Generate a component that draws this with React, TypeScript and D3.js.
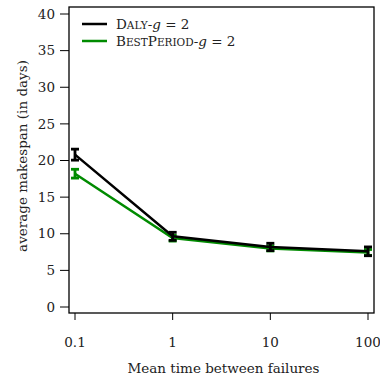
import * as d3 from 'd3'

const MARGIN = {top: 7, right: 6, bottom: 67, left: 69}
const WIDTH = 380
const HEIGHT = 380

const mtbf = [0.1, 1, 10, 100]
const dalyMean = [20.8, 9.65, 8.2, 7.6]
const dalyErr = [0.75, 0.55, 0.5, 0.6]
const bestMean = [18.2, 9.4, 8.0, 7.45]
const bestErr = [0.6, 0.4, 0.35, 0.4]
const yTicks = [0, 5, 10, 15, 20, 25, 30, 35, 40]
const xTickLabels = ['0.1', '1', '10', '100']

const FONT = "'DejaVu Serif', serif"
const GREEN = '#008b00'
const FS = 13.5

type Series = {name: string; color: string; mean: number[]; err: number[]}

const series: Series[] = [
  {name: 'best', color: GREEN, mean: bestMean, err: bestErr},
  {name: 'daly', color: '#000', mean: dalyMean, err: dalyErr},
]

export default function App() {
  const boundsWidth = WIDTH - MARGIN.left - MARGIN.right
  const boundsHeight = HEIGHT - MARGIN.top - MARGIN.bottom

  // R-style: data range padded inside the box
  const xScale = d3.scaleLog().domain([0.1, 100]).range([6, boundsWidth - 6])
  const yScale = d3.scaleLinear().domain([0, 40]).range([300, 7])

  const line = d3
    .line<number>()
    .x((_, i) => xScale(mtbf[i]))
    .y(d => yScale(d))

  const cap = 4

  return (
    <svg width={WIDTH} height={HEIGHT} style={{position: 'absolute', left: 0, top: 0}}>
      <g transform={`translate(${MARGIN.left},${MARGIN.top})`} style={{fontFamily: FONT}} fill="#222">
        <rect x={0} y={0} width={boundsWidth} height={boundsHeight} fill="none" stroke="#000" strokeWidth={1.3} />

        {/* y axis */}
        {yTicks.map(t => (
          <g key={t}>
            <line x1={-9} x2={0} y1={yScale(t)} y2={yScale(t)} stroke="#000" />
            <text x={-14} y={yScale(t)} dy="0.35em" textAnchor="end" fontSize={FS}>
              {t}
            </text>
          </g>
        ))}

        {/* x axis */}
        {mtbf.map((t, i) => (
          <g key={t}>
            <line x1={xScale(t)} x2={xScale(t)} y1={boundsHeight} y2={boundsHeight + 7} stroke="#000" />
            <text x={xScale(t)} y={boundsHeight + 29} dy="0.35em" textAnchor="middle" fontSize={FS}>
              {xTickLabels[i]}
            </text>
          </g>
        ))}

        <text x={boundsWidth / 2 + 2} y={boundsHeight + 55} dy="0.35em" textAnchor="middle" fontSize={FS}>
          Mean time between failures
        </text>
        <text
          transform={`translate(${-47},${boundsHeight / 2 - 4}) rotate(-90)`}
          dy="0.35em"
          textAnchor="middle"
          fontSize={FS}>
          average makespan (in days)
        </text>

        {series.map(s => (
          <g key={s.name}>
            <path d={line(s.mean) ?? ''} fill="none" stroke={s.color} strokeWidth={2.5} />
            {s.mean.map((m, i) => {
              const x = xScale(mtbf[i])
              const y1 = yScale(m - s.err[i])
              const y2 = yScale(m + s.err[i])
              return (
                <g key={i} stroke={s.color} strokeWidth={2.8}>
                  <line x1={x} x2={x} y1={y1} y2={y2} />
                  <line x1={x - cap} x2={x + cap} y1={y1} y2={y1} />
                  <line x1={x - cap} x2={x + cap} y1={y2} y2={y2} />
                </g>
              )
            })}
          </g>
        ))}

        {/* legend */}
        <g transform="translate(13,17)">
          <line x1={0} x2={25} y1={0} y2={0} stroke="#000" strokeWidth={2.5} />
          <text x={34} y={0} dy="0.35em" fontSize={FS}>
            D<tspan fontSize={10.5}>ALY</tspan>-<tspan fontStyle="italic">g</tspan> = 2
          </text>
          <line x1={0} x2={25} y1={17} y2={17} stroke={GREEN} strokeWidth={2.5} />
          <text x={34} y={17} dy="0.35em" fontSize={FS}>
            B<tspan fontSize={10.5}>EST</tspan>P<tspan fontSize={10.5}>ERIOD</tspan>-<tspan fontStyle="italic">g</tspan> = 2
          </text>
        </g>
      </g>
    </svg>
  )
}
